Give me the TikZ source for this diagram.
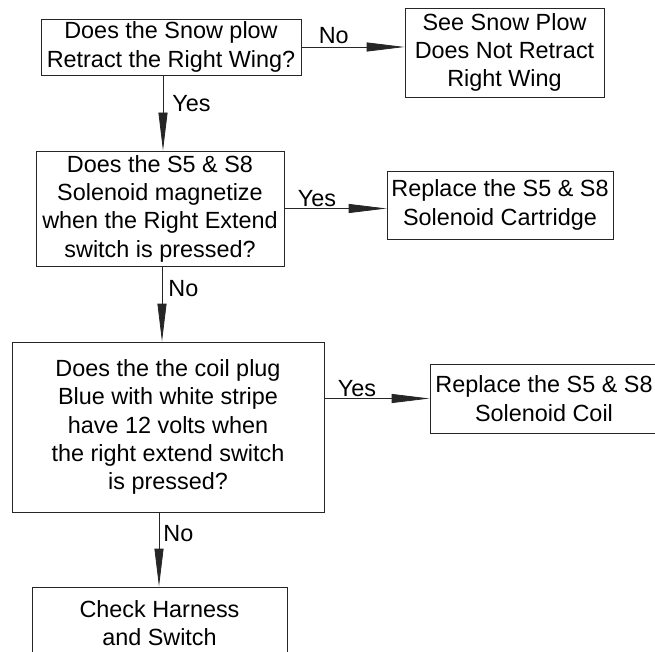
\documentclass[tikz,border=0pt]{standalone}
\usepackage{fontspec}
\setmainfont{Liberation Sans}
\usetikzlibrary{arrows.meta}
\tikzset{
  box/.style={draw=black!85, line width=0.8pt, align=center, inner sep=0pt, font=\fontsize{23.4}{28.3}\selectfont},
  flow/.style={draw=black!85, line width=0.8pt, -{Triangle[length=38pt,width=9pt]}},
  lbl/.style={inner sep=0pt, font=\fontsize{23.4}{28.3}\selectfont},
}
\begin{document}
\begin{tikzpicture}[x=1pt,y=-1pt] %1
            \useasboundingbox (0,0) rectangle (655,652);

            \node[box, minimum width=260pt, minimum height=56pt] (snow) at (171,47) {Does the Snow plow\\Retract the Right Wing?};
            \node[box, minimum width=199pt, minimum height=89pt] (see) at (504.5,52.5) {See Snow Plow\\Does Not Retract\\Right Wing};
            \node[box, minimum width=248pt, minimum height=115pt] (magnet) at (160,208.5) {Does the S5 \& S8\\Solenoid magnetize\\when the Right Extend\\switch is pressed?};
            \node[box, minimum width=226pt, minimum height=68pt] (cartridge) at (500,205) {Replace the S5 \& S8\\Solenoid Cartridge};
            \node[box, minimum width=312pt, minimum height=170pt] (coil) at (168,427) {Does the the coil plug\\Blue with white stripe\\have 12 volts when\\the right extend switch\\is pressed?};
            \node[box, minimum width=228pt, minimum height=69pt] (coilrep) at (544,398.5) {Replace the S5 \& S8\\Solenoid Coil};
            \node[box, minimum width=255pt, minimum height=72pt] (check) at (159.5,623) {Check Harness\\and Switch};

            \draw[flow] (snow.east) -- (snow.east -| see.west)
                node[lbl, pos=0, anchor=base west, xshift=17pt, yshift=3pt] (no1) {No};
            \draw[flow] ([xshift=-8pt]snow.south) -- ([xshift=-8pt]snow.south |- magnet.north)
                node[lbl, pos=0, anchor=north west, xshift=9pt, yshift=-20pt] (yes1) {Yes};
            \draw[flow] (magnet.east) -- (magnet.east -| cartridge.west)
                node[lbl, pos=0, anchor=base west, xshift=13pt, yshift=2pt] (yes2) {Yes};
            \draw[flow] ([xshift=2pt]magnet.south) -- ([xshift=2pt]magnet.south |- coil.north)
                node[lbl, pos=0, anchor=north west, xshift=6pt, yshift=-14pt] (no2) {No};
            \draw[flow] (coilrep.west -| coil.east) -- (coilrep.west)
                node[lbl, pos=0, anchor=base west, xshift=13pt, yshift=2pt] (yes3) {Yes};
            \draw[flow] ([xshift=-9pt]coil.south) -- ([xshift=-9pt]coil.south |- check.north)
                node[lbl, pos=0, anchor=north west, xshift=4pt, yshift=-13pt] (no3) {No};
        \end{tikzpicture}
\end{document}
